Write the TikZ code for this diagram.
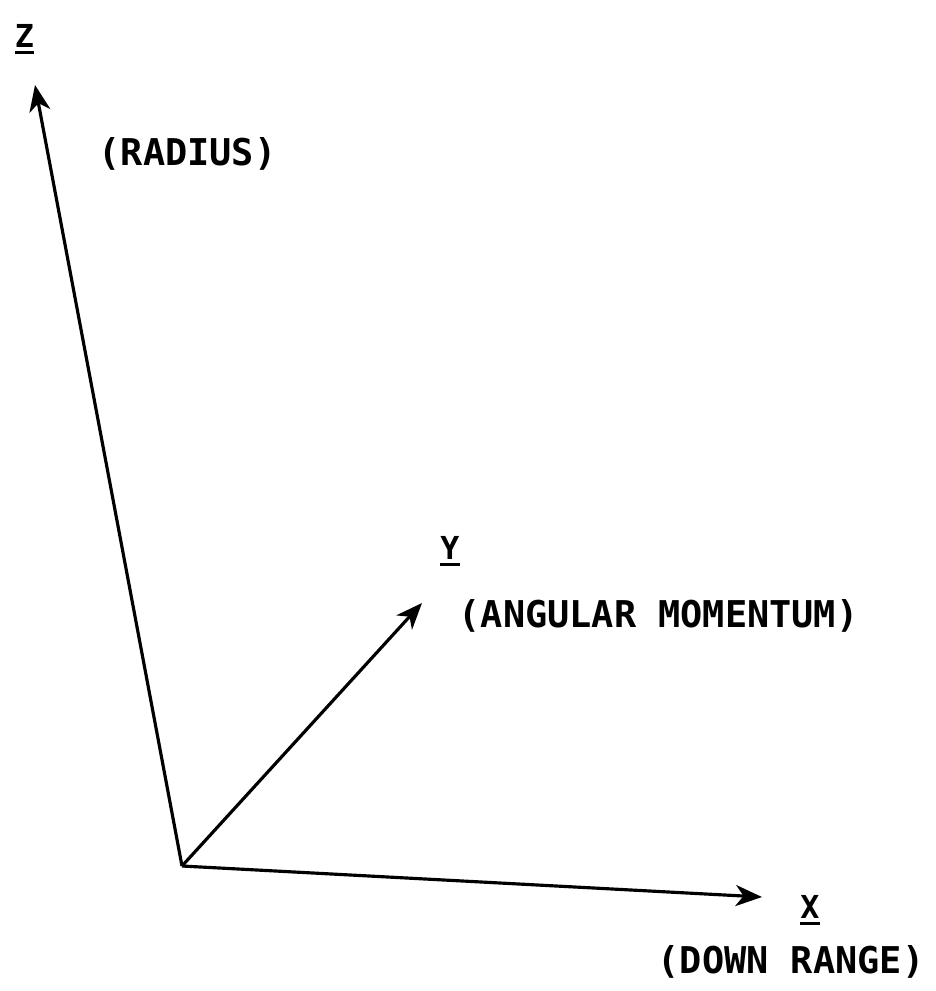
\documentclass[tikz,border=0pt]{standalone}
\usepackage{fontspec}
\setmonofont{DejaVu Sans Mono}
\usetikzlibrary{arrows.meta}
\newcommand{\axisname}[1]{\setbox0\hbox{#1}\rlap{\copy0}\rule[-4pt]{\wd0}{1.6pt}}
\tikzset{axlab/.style={font=\ttfamily\bfseries\fontsize{18}{20}\selectfont, inner sep=0pt, anchor=base},
  axdesc/.style={font=\ttfamily\bfseries\fontsize{21}{24}\selectfont, inner sep=0pt, anchor=base}}

\begin{document}
\begin{tikzpicture}[x=0.02cm, y=-0.02cm, line width=1.8pt,
  >={Stealth[length=15pt,width=12pt,inset=4.5pt]}]
\useasboundingbox (0,0) rectangle (936,991);
\coordinate (O) at (182,866);
\coordinate (Zt) at (35,85); \coordinate (Yt) at (422,603);
\coordinate (Xt) at (762,897);
\draw[->] (O) -- (Zt);
\draw[->] (O) -- (Yt);
\draw[->] (O) -- (Xt);
\node[axlab] (zlab) at (24.5,47) {\axisname{Z}};
\node[axlab] (ylab) at (450,559) {\axisname{Y}};
\node[axlab] (xlab) at (810,918) {\axisname{X}};
\node[axdesc] (zdesc) at (187.5,165) {(RADIUS)};
\node[axdesc] (ydesc) at (658.5,627) {(ANGULAR MOMENTUM)};
\node[axdesc] (xdesc) at (791,973) {(DOWN RANGE)};
\end{tikzpicture}
\end{document}
